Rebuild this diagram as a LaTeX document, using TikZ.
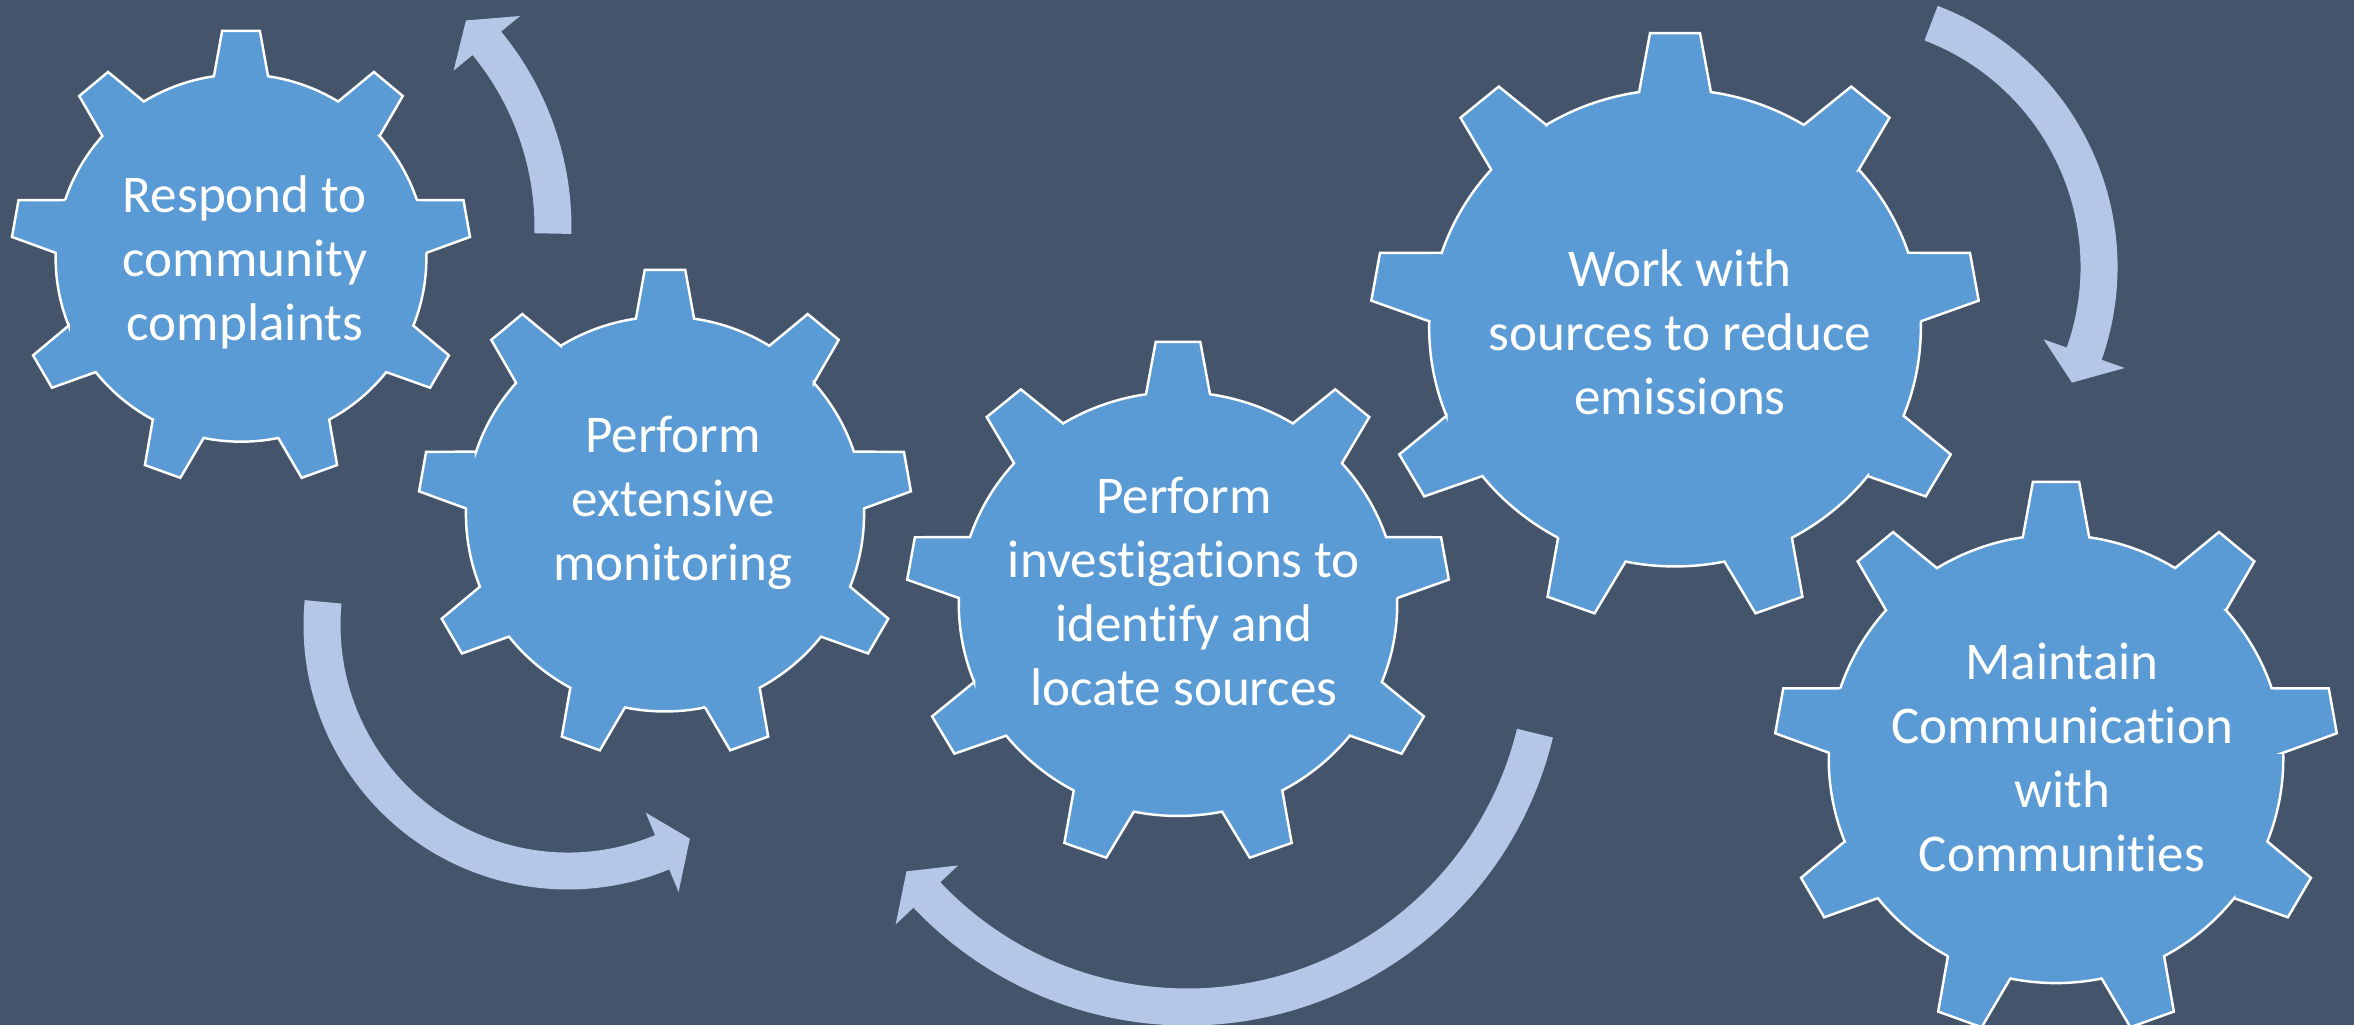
\documentclass[tikz,border=0pt]{standalone}
\usepackage{fontspec}
\setmainfont[Ligatures=NoCommon]{Carlito}
\definecolor{slate}{HTML}{44546A}
\definecolor{gearblue}{HTML}{5B9BD5}
\definecolor{paleblue}{HTML}{B4C7E7}
\tikzstyle{gear}=[fill=gearblue, draw=white, line width=0.7pt]
\tikzstyle{geartext}=[text=white, align=center,
	font=\fontsize{15.1}{18.2}\selectfont]
\tikzstyle{band}=[fill=paleblue]
% gear with 9 teeth: name, centre, x radius, y scale
\newcommand{\drawgear}[4]{%
	\coordinate (#1) at (#2);
	\begin{scope}[shift={(#1)}, yscale=#4]
		\path[gear] (81.6:{0.806*#3})
		\foreach \a in {90,130,...,410}{
			-- (\a-8.4:{0.806*#3}) -- (\a-4.7:#3) -- (\a+4.7:#3)
			-- (\a+8.4:{0.806*#3})
			arc[start angle=\a+8.4, end angle=\a+31.6, radius={0.806*#3}]
		} -- cycle;
	\end{scope}}
% curved arrow: name, centre, radius, tail angle, head angle, tip angle
\newcommand{\turnarrow}[6]{%
	\coordinate (#1) at (#2);
	\begin{scope}[shift={(#1)}]
		\path[band] (#4:{#3+18.5})
			arc[start angle=#4, end angle=#5, radius={#3+18.5}]
			-- (#5:{#3+43}) -- (#6:#3) -- (#5:{#3-43}) -- (#5:{#3-18.5})
			arc[start angle=#5, end angle=#4, radius={#3-18.5}] -- cycle;
	\end{scope}}

\begin{document}
\begin{tikzpicture}[x=0.01cm, y=0.01cm]

	% Background
	\fill[slate] (0,0) rectangle (2354,-1025);
	\useasboundingbox (0,0) rectangle (2354,-1025);

	% Curved arrows
	\turnarrow{a1}{262,-228}{291}{-1.1}{39.4}{45.5}
	\turnarrow{a2}{568,-625}{246}{174.6}{292.5}{299.7}
	\turnarrow{a3}{1187,-649}{358}{-13.6}{-136.6}{-141.6}
	\turnarrow{a4}{1838,-267}{261}{69.1}{-19.4}{-26.3}

	% Gears
	\drawgear{g1}{241,-258}{230}{0.991}
	\drawgear{g2}{665,-514}{247}{0.992}
	\drawgear{g3}{1178,-604}{272}{0.967}
	\drawgear{g4}{1675,-328}{305}{0.970}
	\drawgear{g5}{2056,-759}{282}{0.986}

	% Texts
	\node (t1) [geartext] at (245,-262) {Respond to\\ community\\ complaints};
	\node (t2) [geartext] at (673,-503) {Perform\\ extensive\\ monitoring};
	\node (t3) [geartext] at (1184,-591) {Perform\\ investigations to\\ identify and\\ locate sources};
	\node (t4) [geartext] at (1680,-332) {Work with\\ sources to reduce\\ emissions};
	\node (t5) [geartext] at (2062,-757) {Maintain\\ Communication\\ with\\ Communities};

\end{tikzpicture}
\end{document}
